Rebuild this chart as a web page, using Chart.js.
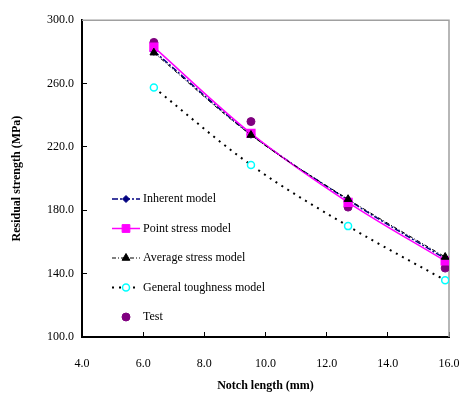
<!DOCTYPE html>
<html>
<head>
<meta charset="utf-8">
<script src="https://cdn.jsdelivr.net/npm/chart.js@4"></script>
<style>
  html, body { margin: 0; padding: 0; background: #fff; }
  #wrap { width: 460px; height: 399px; }
</style>
</head>
<body>
<div id="wrap"><canvas id="strength-chart" width="460" height="399"></canvas></div>
<script>
// Data
const notchLength = [6.35, 9.525, 12.7, 15.875];
const inherentModel = [280.5, 228, 186.5, 149.5];
const pointStressModel = [283, 228.5, 185, 148];
const averageStressModel = [279.5, 227.5, 187, 150.5];
const generalToughnessModel = [257.5, 208.6, 170, 135.8];
const testNotch = [6.35, 9.525, 12.7, 12.7, 15.875];
const testStrength = [286, 236, 185.5, 182, 143.5];
const xTicks = [4, 6, 8, 10, 12, 14, 16];
const yTicks = [100, 140, 180, 220, 260, 300];

const serif = "'Liberation Serif', 'Times New Roman', serif";

function toPoints(xs, ys) {
    return xs.map((x, i) => ({ x: x, y: ys[i] }));
}

const datasets = [
    {
        label: 'Inherent model',
        data: toPoints(notchLength, inherentModel),
        borderColor: '#000080',
        backgroundColor: '#000080',
        borderWidth: 1.5,
        borderDash: [6, 2, 2, 2],
        pointStyle: 'rectRot',
        pointRadius: 3.5,
        order: 3
    },
    {
        label: 'Point stress model',
        data: toPoints(notchLength, pointStressModel),
        borderColor: '#ff00ff',
        backgroundColor: '#ff00ff',
        borderWidth: 1.5,
        pointStyle: 'rect',
        pointRadius: 5.5,
        order: 2
    },
    {
        label: 'Average stress model',
        data: toPoints(notchLength, averageStressModel),
        borderColor: '#000000',
        backgroundColor: '#000000',
        borderWidth: 1,
        borderDash: [4, 2, 1, 2],
        pointStyle: 'triangle',
        pointRadius: 4.5,
        order: 1
    },
    {
        label: 'General toughness model',
        data: toPoints(notchLength, generalToughnessModel),
        borderColor: '#000000',
        backgroundColor: '#ffffff',
        pointBorderColor: '#00ffff',
        pointBorderWidth: 1.5,
        borderWidth: 2,
        borderDash: [2, 5],
        pointStyle: 'circle',
        pointRadius: 3.5,
        order: 4
    },
    {
        label: 'Test',
        data: toPoints(testNotch, testStrength),
        borderColor: '#800080',
        backgroundColor: '#800080',
        showLine: false,
        pointStyle: 'circle',
        pointRadius: 4,
        order: 5
    }
];

// legend drawn inside the plot, one entry per row
const insideLegend = {
    id: 'insideLegend',
    afterDraw(chart) {
        const ctx = chart.ctx;
        const x0 = 112, x1 = 140, textX = 143;
        ctx.save();
        chart.data.datasets.forEach((ds, i) => {
            const y = 199 + i * 29.5;
            if (ds.showLine !== false) {
                ctx.beginPath();
                ctx.setLineDash(ds.borderDash || []);
                ctx.lineWidth = ds.borderWidth;
                ctx.strokeStyle = ds.borderColor;
                ctx.moveTo(x0, y);
                ctx.lineTo(x1, y);
                ctx.stroke();
            }
            ctx.setLineDash([]);
            ctx.fillStyle = ds.backgroundColor;
            ctx.strokeStyle = ds.pointBorderColor || ds.borderColor;
            ctx.lineWidth = ds.pointBorderWidth || 1;
            Chart.helpers.drawPoint(ctx, {
                pointStyle: ds.pointStyle,
                radius: ds.pointRadius,
                rotation: 0,
                borderWidth: ds.pointBorderWidth || 1
            }, (x0 + x1) / 2, y);
            ctx.fillStyle = '#000';
            ctx.font = '12px ' + serif;
            ctx.textBaseline = 'middle';
            ctx.textAlign = 'left';
            ctx.fillText(ds.label, textX, y);
        });
        ctx.restore();
    }
};

// thin grey frame on top and right of the plot
const plotFrame = {
    id: 'plotFrame',
    beforeDatasetsDraw(chart) {
        const a = chart.chartArea;
        const ctx = chart.ctx;
        ctx.save();
        ctx.strokeStyle = '#a0a0a0';
        ctx.lineWidth = 1.5;
        ctx.beginPath();
        ctx.moveTo(a.left, a.top);
        ctx.lineTo(a.right, a.top);
        ctx.lineTo(a.right, a.bottom);
        ctx.stroke();
        ctx.restore();
    }
};

const ctx = document.getElementById('strength-chart').getContext('2d');
new Chart(ctx, {
    type: 'line',
    data: { datasets: datasets },
    plugins: [plotFrame, insideLegend],
    options: {
        responsive: false,
        animation: false,
        layout: { padding: { top: 11, right: 0, left: 0, bottom: 0 } },
        elements: { line: { tension: 0.35, fill: false } },
        plugins: {
            legend: { display: false },
            tooltip: { enabled: false }
        },
        scales: {
            x: {
                type: 'linear',
                min: xTicks[0],
                max: xTicks[xTicks.length - 1],
                afterBuildTicks: (scale) => { scale.ticks = xTicks.map(v => ({ value: v })); },
                afterFit: (scale) => {
                    scale.height = 62;
                    scale.paddingLeft = 0;
                    scale.paddingRight = 11;
                },
                ticks: {
                    padding: 25,
                    color: '#000',
                    font: { family: serif, size: 12 },
                    callback: (v) => Number(v).toFixed(1)
                },
                grid: { drawOnChartArea: false, tickLength: -5, tickColor: '#000' },
                border: { color: '#000', width: 2 },
                title: {
                    display: true,
                    text: 'Notch length (mm)',
                    color: '#000',
                    font: { family: serif, size: 12, weight: 'bold' },
                    padding: { bottom: 6 }
                }
            },
            y: {
                min: yTicks[0],
                max: yTicks[yTicks.length - 1],
                afterBuildTicks: (scale) => { scale.ticks = yTicks.map(v => ({ value: v })); },
                afterFit: (scale) => { scale.width = 82; },
                ticks: {
                    padding: 13,
                    color: '#000',
                    font: { family: serif, size: 12 },
                    callback: (v) => Number(v).toFixed(1)
                },
                grid: { drawOnChartArea: false, tickLength: -5, tickColor: '#000' },
                border: { color: '#000', width: 2 },
                title: {
                    display: true,
                    text: 'Residual strength (MPa)',
                    color: '#000',
                    font: { family: serif, size: 12, weight: 'bold' },
                    padding: { top: 10 }
                }
            }
        }
    }
});
</script>
</body>
</html>
